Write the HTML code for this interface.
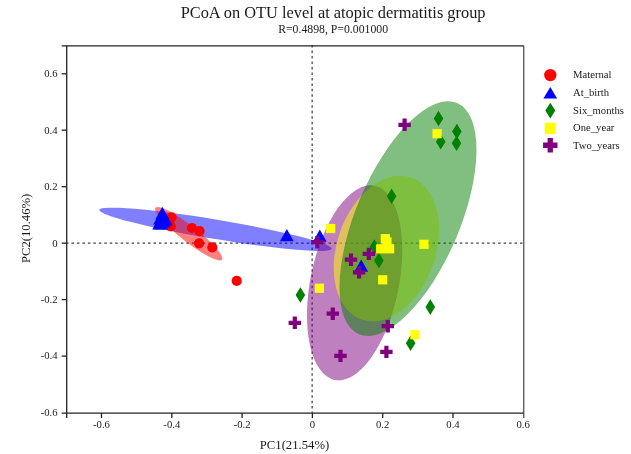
<!DOCTYPE html>
<html><head><meta charset="utf-8"><title>PCoA on OTU level at atopic dermatitis group</title>
<style>
html,body{margin:0;padding:0;background:#fff;}
svg{display:block;}
#wrap{width:631px;height:454px;opacity:0.999;will-change:opacity;}
text{font-family:"Liberation Serif","Times New Roman",serif;fill:#1a1a1a;}
</style></head><body>
<div id="wrap"><svg width="631" height="454" viewBox="0 0 631 454">
<text x="333.1" y="17.8" font-size="16.36" text-anchor="middle">PCoA on OTU level at atopic dermatitis group</text>
<text x="333.1" y="32.9" font-size="11.75" text-anchor="middle">R=0.4898, P=0.001000</text>
<g stroke="#404040" stroke-width="1.25" stroke-dasharray="2.5 2.97" fill="none">
<line x1="66.0" y1="243.00" x2="523.8" y2="243.00"/>
<line x1="312.15" y1="45.1" x2="312.15" y2="413.1"/>
</g>
<g fill-opacity="0.5">
<ellipse cx="0" cy="0" rx="117.8" ry="9.7" fill="#0000ff" transform="translate(215.5,229.3) rotate(9.5)"/>
<ellipse cx="0" cy="0" rx="42.2" ry="8.0" fill="#ff0000" transform="translate(188.7,233.7) rotate(38.0)"/>
<ellipse cx="0" cy="0" rx="99.1" ry="44.2" fill="#800080" transform="translate(354.6,282.8) rotate(-78.4)"/>
<ellipse cx="0" cy="0" rx="75.2" ry="49.3" fill="#ffff00" transform="translate(386.4,248.6) rotate(-70.8)"/>
<ellipse cx="0" cy="0" rx="125.6" ry="51.9" fill="#008000" transform="translate(408.0,218.65) rotate(-67.0)"/>
</g>
<g>
<circle cx="171.5" cy="217.3" r="5.1" fill="#ff0000"/>
<circle cx="170.8" cy="226.4" r="5.1" fill="#ff0000"/>
<circle cx="192.0" cy="228.0" r="5.1" fill="#ff0000"/>
<circle cx="199.6" cy="231.1" r="5.1" fill="#ff0000"/>
<circle cx="199.1" cy="243.3" r="5.1" fill="#ff0000"/>
<circle cx="212.3" cy="247.4" r="5.1" fill="#ff0000"/>
<circle cx="236.7" cy="280.9" r="5.1" fill="#ff0000"/>
<polygon points="162.3,206.7 169.2,218.9 155.5,218.9" fill="#0000ff"/>
<polygon points="160.0,212.4 166.8,224.6 153.2,224.6" fill="#0000ff"/>
<polygon points="159.1,217.3 165.9,229.5 152.2,229.5" fill="#0000ff"/>
<polygon points="165.7,213.2 172.5,225.4 158.8,225.4" fill="#0000ff"/>
<polygon points="161.3,217.3 168.2,229.5 154.5,229.5" fill="#0000ff"/>
<polygon points="163.6,215.3 170.4,227.5 156.8,227.5" fill="#0000ff"/>
<polygon points="286.8,229.0 293.7,241.2 279.9,241.2" fill="#0000ff"/>
<polygon points="319.8,229.5 326.7,241.7 312.9,241.7" fill="#0000ff"/>
<polygon points="361.2,259.5 368.1,271.7 354.3,271.7" fill="#0000ff"/>
<polygon points="438.5,110.7 443.3,118.5 438.5,126.3 433.7,118.5" fill="#008000"/>
<polygon points="440.7,133.9 445.5,141.7 440.7,149.5 435.9,141.7" fill="#008000"/>
<polygon points="456.9,123.7 461.7,131.5 456.9,139.3 452.1,131.5" fill="#008000"/>
<polygon points="456.5,135.5 461.3,143.3 456.5,151.1 451.7,143.3" fill="#008000"/>
<polygon points="391.6,188.4 396.4,196.2 391.6,204.0 386.8,196.2" fill="#008000"/>
<polygon points="374.4,239.2 379.2,247.0 374.4,254.8 369.6,247.0" fill="#008000"/>
<polygon points="378.9,252.7 383.7,260.5 378.9,268.3 374.1,260.5" fill="#008000"/>
<polygon points="300.4,287.2 305.2,295.0 300.4,302.8 295.6,295.0" fill="#008000"/>
<polygon points="430.3,299.3 435.1,307.1 430.3,314.9 425.5,307.1" fill="#008000"/>
<polygon points="410.6,335.5 415.4,343.3 410.6,351.1 405.8,343.3" fill="#008000"/>
<rect x="432.5" y="129.1" width="9.2" height="9.2" fill="#ffff00"/>
<rect x="326.1" y="223.9" width="9.2" height="9.2" fill="#ffff00"/>
<rect x="380.7" y="234.1" width="9.2" height="9.2" fill="#ffff00"/>
<rect x="382.4" y="237.4" width="9.2" height="9.2" fill="#ffff00"/>
<rect x="376.1" y="244.2" width="9.2" height="9.2" fill="#ffff00"/>
<rect x="385.0" y="244.2" width="9.2" height="9.2" fill="#ffff00"/>
<rect x="419.4" y="239.7" width="9.2" height="9.2" fill="#ffff00"/>
<rect x="378.1" y="275.2" width="9.2" height="9.2" fill="#ffff00"/>
<rect x="314.8" y="283.6" width="9.2" height="9.2" fill="#ffff00"/>
<rect x="410.3" y="330.2" width="9.2" height="9.2" fill="#ffff00"/>
<polygon points="402.5,118.6 406.7,118.6 406.7,122.7 410.8,122.7 410.8,126.9 406.7,126.9 406.7,131.0 402.5,131.0 402.5,126.9 398.4,126.9 398.4,122.7 402.5,122.7" fill="#800080"/>
<polygon points="315.2,236.0 319.4,236.0 319.4,240.1 323.5,240.1 323.5,244.3 319.4,244.3 319.4,248.4 315.2,248.4 315.2,244.3 311.1,244.3 311.1,240.1 315.2,240.1" fill="#800080"/>
<polygon points="348.9,253.5 353.1,253.5 353.1,257.6 357.2,257.6 357.2,261.8 353.1,261.8 353.1,265.9 348.9,265.9 348.9,261.8 344.8,261.8 344.8,257.6 348.9,257.6" fill="#800080"/>
<polygon points="366.7,247.7 370.9,247.7 370.9,251.8 375.0,251.8 375.0,256.0 370.9,256.0 370.9,260.1 366.7,260.1 366.7,256.0 362.6,256.0 362.6,251.8 366.7,251.8" fill="#800080"/>
<polygon points="357.0,266.2 361.2,266.2 361.2,270.3 365.3,270.3 365.3,274.5 361.2,274.5 361.2,278.6 357.0,278.6 357.0,274.5 352.9,274.5 352.9,270.3 357.0,270.3" fill="#800080"/>
<polygon points="292.7,316.6 296.9,316.6 296.9,320.7 301.0,320.7 301.0,324.9 296.9,324.9 296.9,329.0 292.7,329.0 292.7,324.9 288.6,324.9 288.6,320.7 292.7,320.7" fill="#800080"/>
<polygon points="330.7,307.5 334.9,307.5 334.9,311.6 339.0,311.6 339.0,315.8 334.9,315.8 334.9,319.9 330.7,319.9 330.7,315.8 326.6,315.8 326.6,311.6 330.7,311.6" fill="#800080"/>
<polygon points="385.7,320.0 389.9,320.0 389.9,324.1 394.0,324.1 394.0,328.3 389.9,328.3 389.9,332.4 385.7,332.4 385.7,328.3 381.6,328.3 381.6,324.1 385.7,324.1" fill="#800080"/>
<polygon points="338.4,349.7 342.6,349.7 342.6,353.8 346.7,353.8 346.7,358.0 342.6,358.0 342.6,362.1 338.4,362.1 338.4,358.0 334.3,358.0 334.3,353.8 338.4,353.8" fill="#800080"/>
<polygon points="384.3,345.7 388.5,345.7 388.5,349.8 392.6,349.8 392.6,354.0 388.5,354.0 388.5,358.1 384.3,358.1 384.3,354.0 380.2,354.0 380.2,349.8 384.3,349.8" fill="#800080"/>
</g>
<g stroke="#222" stroke-width="1.3" fill="none">
<line x1="66.7" y1="45.8" x2="66.7" y2="418.1"/>
<line x1="61.7" y1="413.1" x2="523.8" y2="413.1"/>
<line x1="61.7" y1="45.8" x2="523.8" y2="45.8"/>
<line x1="523.8" y1="45.8" x2="523.8" y2="418.1" stroke-width="1"/>
<line x1="101.5" y1="413.1" x2="101.5" y2="418.1"/>
<line x1="171.8" y1="413.1" x2="171.8" y2="418.1"/>
<line x1="242.1" y1="413.1" x2="242.1" y2="418.1"/>
<line x1="312.4" y1="413.1" x2="312.4" y2="418.1"/>
<line x1="382.7" y1="413.1" x2="382.7" y2="418.1"/>
<line x1="453.0" y1="413.1" x2="453.0" y2="418.1"/>
<line x1="61.7" y1="356.1" x2="66.7" y2="356.1"/>
<line x1="61.7" y1="299.6" x2="66.7" y2="299.6"/>
<line x1="61.7" y1="243.2" x2="66.7" y2="243.2"/>
<line x1="61.7" y1="186.7" x2="66.7" y2="186.7"/>
<line x1="61.7" y1="130.2" x2="66.7" y2="130.2"/>
<line x1="61.7" y1="73.8" x2="66.7" y2="73.8"/>
</g>
<g font-size="10.67">
<text x="101.5" y="428" text-anchor="middle">-0.6</text>
<text x="171.8" y="428" text-anchor="middle">-0.4</text>
<text x="242.1" y="428" text-anchor="middle">-0.2</text>
<text x="312.4" y="428" text-anchor="middle">0</text>
<text x="382.7" y="428" text-anchor="middle">0.2</text>
<text x="453.0" y="428" text-anchor="middle">0.4</text>
<text x="523.2" y="428" text-anchor="middle">0.6</text>
<text x="57.6" y="415.8" text-anchor="end">-0.6</text>
<text x="57.6" y="359.4" text-anchor="end">-0.4</text>
<text x="57.6" y="302.9" text-anchor="end">-0.2</text>
<text x="57.6" y="246.5" text-anchor="end">0</text>
<text x="57.6" y="190.0" text-anchor="end">0.2</text>
<text x="57.6" y="133.6" text-anchor="end">0.4</text>
<text x="57.6" y="77.1" text-anchor="end">0.6</text>
</g>
<text x="294.5" y="448.6" font-size="12.7" text-anchor="middle">PC1(21.54%)</text>
<text transform="translate(29.7,228.4) rotate(-90)" font-size="12.7" text-anchor="middle">PC2(10.46%)</text>
<circle cx="550.3" cy="75.1" r="6.2" fill="#ff0000"/>
<polygon points="550.3,87.0 557.1,98.6 543.4,98.6" fill="#0000ff"/>
<polygon points="550.3,102.8 555.3,110.6 550.3,118.5 545.3,110.6" fill="#008000"/>
<rect x="544.7" y="122.7" width="11.2" height="11.2" fill="#ffff00"/>
<polygon points="547.6,138.1 552.9,138.1 552.9,142.6 557.5,142.6 557.5,147.9 552.9,147.9 552.9,152.5 547.6,152.5 547.6,147.9 543.1,147.9 543.1,142.6 547.6,142.6" fill="#800080"/>
<g font-size="10.67">
<text x="573" y="78.4">Maternal</text>
<text x="573" y="96.0">At_birth</text>
<text x="573" y="113.7">Six_months</text>
<text x="573" y="131.3">One_year</text>
<text x="573" y="148.9">Two_years</text>
</g>
</svg></div></body></html>
